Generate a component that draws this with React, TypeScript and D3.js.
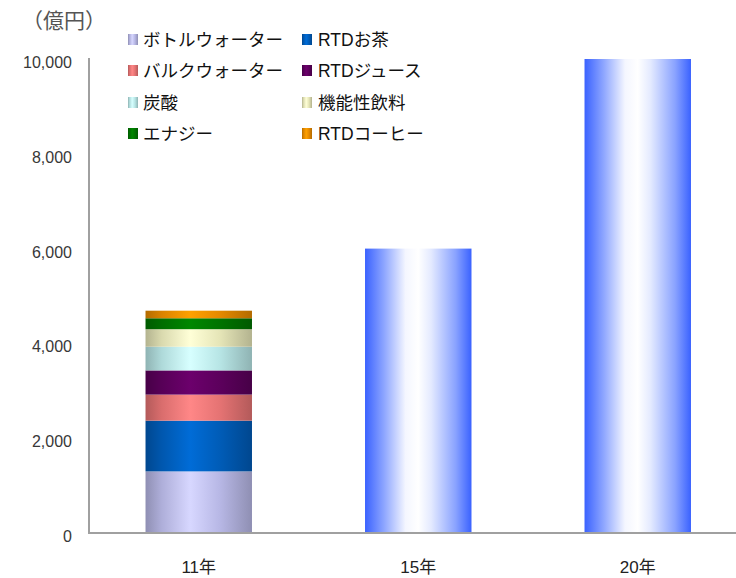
import React from "react";
import * as d3 from "d3";

const years = ["11年", "15年", "20年"];
const seriesNames = [
  "ボトルウォーター",
  "RTDお茶",
  "バルクウォーター",
  "RTDジュース",
  "炭酸",
  "機能性飲料",
  "エナジー",
  "RTDコーヒー",
];
const seriesColors = [
  "#ccccff",
  "#0066cc",
  "#ff8080",
  "#660066",
  "#ccffff",
  "#ffffcc",
  "#008000",
  "#ff9900",
];
// 2011 breakdown (億円)
const values2011 = [1300, 1070, 550, 510, 500, 370, 230, 160];
// totals for forecast years
const totalsForecast = [6000, 10000];
const yTicks = [0, 2000, 4000, 6000, 8000, 10000];
const yTickLabels = ["0", "2,000", "4,000", "6,000", "8,000", "10,000"];
const unitLabel = "（億円）";

// legend order (row by row, two columns)
const legendOrder = [0, 1, 2, 3, 4, 5, 6, 7];

const W = 736;
const H = 578;

export default function App() {
  const x = d3.scaleBand<string>().domain(years).range([89, 747.5]).paddingInner(0.515).paddingOuter(0.2575);
  const y = d3.scaleLinear().domain([0, 10000]).range([533, 59]);

  const row: Record<string, number> = {};
  seriesNames.forEach((n, i) => (row[n] = values2011[i]));
  const stacked = d3.stack<Record<string, number>>().keys(seriesNames)([row]);

  const cylStops = (c: string) => {
    const base = d3.rgb(c);
    return [
      { o: 0, c: base.darker(1.0).formatHex() },
      { o: 0.15, c: base.darker(0.45).formatHex() },
      { o: 0.42, c: base.brighter(0.15).formatHex() },
      { o: 0.7, c: base.darker(0.3).formatHex() },
      { o: 1, c: base.darker(1.0).formatHex() },
    ];
  };

  const blueStops = [
    { o: 0, c: "#3a62ff" },
    { o: 0.18, c: "#8ea6ff" },
    { o: 0.38, c: "#f4f6ff" },
    { o: 0.5, c: "#ffffff" },
    { o: 0.62, c: "#e4eaff" },
    { o: 0.85, c: "#8aa3ff" },
    { o: 1, c: "#3a62ff" },
  ];

  const legendCols = [128, 302];
  const legendTextX = [143, 318];
  const legendRows = [40, 71, 103, 134];

  const font = "'Liberation Sans', 'Noto Sans CJK JP', sans-serif";

  return (
    <svg
      width={W}
      height={H}
      style={{ position: "absolute", left: 0, top: 0, background: "#fff" }}
    >
      <defs>
        {seriesColors.map((c, i) => (
          <linearGradient key={i} id={`g${i}`} x1="0" x2="1" y1="0" y2="0">
            {cylStops(c).map((s, j) => (
              <stop key={j} offset={s.o} stopColor={s.c} />
            ))}
          </linearGradient>
        ))}
        <linearGradient id="gblue" x1="0" x2="1" y1="0" y2="0">
          {blueStops.map((s, j) => (
            <stop key={j} offset={s.o} stopColor={s.c} />
          ))}
        </linearGradient>
      </defs>
      <rect x={0} y={0} width={W} height={H} fill="#fff" />

      {/* unit label */}
      <text x={22} y={28} fontFamily="'Noto Sans CJK JP', sans-serif" fontSize={21} fill="#555">
        {unitLabel}
      </text>

      {/* y tick labels */}
      {yTicks.map((t, i) => (
        <text
          key={t}
          x={72}
          y={y(t) + 9}
          textAnchor="end"
          fontFamily="'Liberation Sans', Arial, sans-serif"
          fontSize={16}
          fill="#383838"
        >
          {yTickLabels[i]}
        </text>
      ))}

      {/* stacked 2011 bar */}
      {stacked.map((s, i) => (
        <rect
          key={s.key}
          x={x(years[0])}
          width={x.bandwidth()}
          y={y(s[0][1])}
          height={y(s[0][0]) - y(s[0][1])}
          fill={`url(#g${i})`}
        />
      ))}

      {/* forecast bars */}
      {totalsForecast.map((v, i) => (
        <rect
          key={i}
          x={x(years[i + 1])}
          width={x.bandwidth()}
          y={y(v)}
          height={y(0) - y(v)}
          fill="url(#gblue)"
        />
      ))}

      {/* axes */}
      <line x1={89} x2={89} y1={y(10000) - 1} y2={y(0)} stroke="#a0a0a0" strokeWidth={2} />
      <line x1={88} x2={W} y1={y(0)} y2={y(0)} stroke="#a0a0a0" strokeWidth={2} />

      {/* x labels */}
      {years.map((yr) => (
        <text
          key={yr}
          x={(x(yr) as number) + x.bandwidth() / 2}
          y={573}
          textAnchor="middle"
          fontFamily={font}
          fontSize={17}
          fill="#222"
        >
          {yr}
        </text>
      ))}

      {/* legend */}
      {legendOrder.map((si, k) => {
        const col = k % 2;
        const r = Math.floor(k / 2);
        const cy = legendRows[r];
        return (
          <g key={si}>
            <rect
              x={legendCols[col]}
              y={cy - 6}
              width={10}
              height={11}
              fill={`url(#g${si})`}
            />
            <text
              x={legendTextX[col]}
              y={cy + 6}
              fontFamily={font}
              fontSize={17.5}
              fill="#111"
            >
              {seriesNames[si]}
            </text>
          </g>
        );
      })}
    </svg>
  );
}
